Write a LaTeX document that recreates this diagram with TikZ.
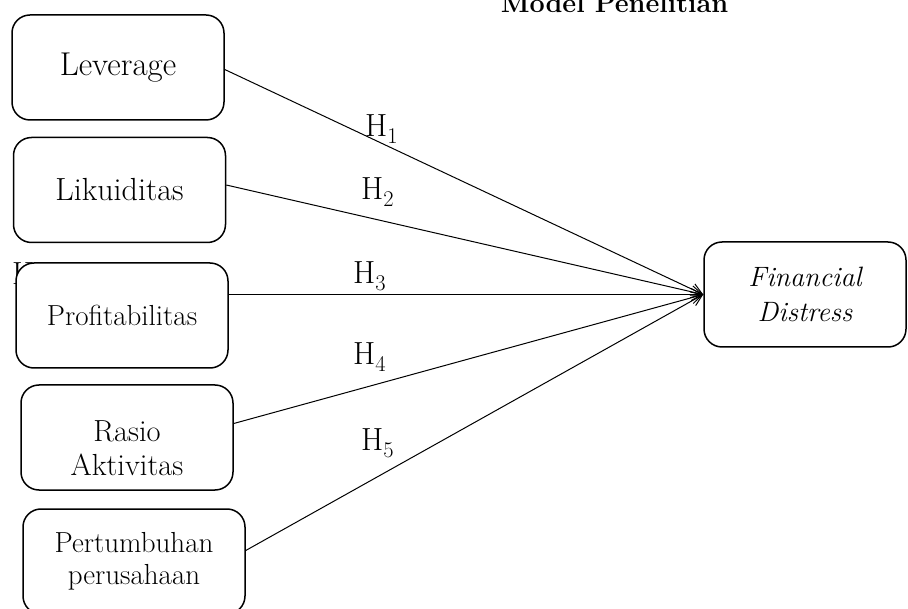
\documentclass[tikz,border=0pt]{standalone}
\usepackage{fontspec}
\usetikzlibrary{arrows.meta}

\begin{document}
\begin{tikzpicture}[
  x=1pt, y=-1pt,
  box/.style={draw,rounded corners=18pt,fill=white,align=center,line width=1.5pt,
    minimum width=212pt,minimum height=105pt,font=\fontsize{32}{36}\selectfont},
  arr/.style={-{Straight Barb[length=11pt,width=12pt]},line width=1pt},
  hyp/.style={anchor=base west,inner sep=0pt,font=\fontsize{32}{36}\selectfont}
]
\clip (0,0) rectangle (908,609);

\node[anchor=base,font=\fontsize{27}{32}\selectfont\bfseries] (title) at (614.5,13) {Model Penelitian};
\node[hyp] (hx) at (12,285) {H};

\node[box,font=\fontsize{33}{36}\selectfont] (lev) at (118,67.5) {Leverage};
\node[box] (lik) at (119.5,190) {Likuiditas};
\node[box,font=\fontsize{29}{32}\selectfont] (prof) at (122,315.5) {Profitabilitas};
\node[box,text height=77pt,font=\fontsize{30.5}{34}\selectfont] (ras) at (127,437.5) {Rasio\\Aktivitas};
\node[box,minimum width=222pt,font=\fontsize{29}{32}\selectfont] (pert) at (134,561.5) {Pertumbuhan\\perusahaan};
\node[box,minimum width=202pt,font=\fontsize{28}{35}\selectfont\itshape] (fd) at (805,294.5) {Financial\\Distress};

\draw[arr] ([yshift=-2pt]lev.east) -- (fd.west);
\draw[arr] ([yshift=5pt]lik.east) -- (fd.west);
\draw[arr] (prof.east |- fd.west) -- (fd.west);
\draw[arr] ([yshift=14pt]ras.east) -- (fd.west);
\draw[arr] ([yshift=11pt]pert.east) -- (fd.west);

\node[hyp] (h1) at (365,137) {H\textsubscript{1}};
\node[hyp] (h2) at (361,200) {H\textsubscript{2}};
\node[hyp] (h3) at (353,284) {H\textsubscript{3}};
\node[hyp] (h4) at (353,365) {H\textsubscript{4}};
\node[hyp] (h5) at (361,451) {H\textsubscript{5}};
\end{tikzpicture}
\end{document}
